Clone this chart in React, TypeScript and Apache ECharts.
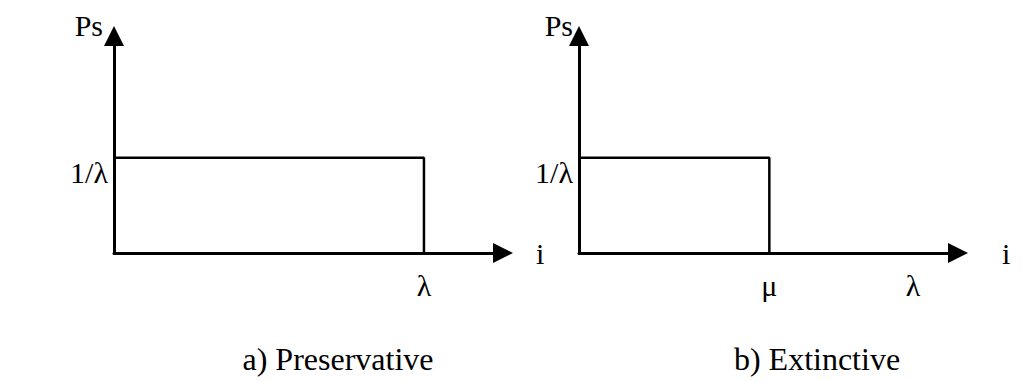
import React, { useEffect, useRef } from "react";
import * as echarts from "echarts";

// Symbolic parameters of the two selection-probability profiles
const LAMBDA = 10;
const MU = 5.7;
const LEVEL = 1 / LAMBDA;

// a) Preservative: Ps = 1/λ for every i up to λ
const preservativeX = [0, LAMBDA, LAMBDA];
const preservativeY = [LEVEL, LEVEL, 0];

// b) Extinctive: Ps = 1/λ only up to μ, zero afterwards
const extinctiveX = [0, MU, MU];
const extinctiveY = [LEVEL, LEVEL, 0];

// Tick positions and their symbolic labels
const preservativeTicks = [LAMBDA];
const preservativeTickLabels = ["λ"];
const extinctiveTicks = [MU, LAMBDA];
const extinctiveTickLabels = ["μ", "λ"];
const levelTicks = [LEVEL];
const levelTickLabels = ["1/λ"];

const captions = ["a) Preservative", "b) Extinctive"];

const FONT = "Liberation Serif";
const INK = "#000";
const FS = 30;

const Y_MAX = 0.228;

const pick = (ticks: number[], labels: string[]) => (v: number) => {
  const k = ticks.findIndex((t) => Math.abs(t - v) < 1e-6);
  return k >= 0 ? labels[k] : "";
};

const zip = (xs: number[], ys: number[]) => xs.map((x, k) => [x, ys[k]]);

function xAxisFor(
  gridIndex: number,
  max: number,
  ticks: number[],
  labels: string[],
  nameGap: number
) {
  return {
    type: "value",
    gridIndex,
    min: 0,
    max,
    splitLine: { show: false },
    axisTick: { show: false },
    axisLine: {
      show: true,
      lineStyle: { color: INK, width: 3 },
      symbol: ["none", "triangle"],
      symbolSize: [20, 20],
    },
    axisLabel: {
      customValues: ticks,
      formatter: pick(ticks, labels),
      color: INK,
      fontFamily: FONT,
      fontSize: FS,
      margin: 17,
    },
    name: "i",
    nameLocation: "end",
    nameGap,
    nameTextStyle: {
      color: INK,
      fontFamily: FONT,
      fontSize: FS,
      align: "left",
      verticalAlign: "middle",
      padding: [0, 0, 10, 0],
    },
  };
}

function yAxisFor(gridIndex: number, namePadRight: number) {
  return {
    type: "value",
    gridIndex,
    min: 0,
    max: Y_MAX,
    splitLine: { show: false },
    axisTick: { show: false },
    axisLine: {
      show: true,
      lineStyle: { color: INK, width: 3 },
      symbol: ["none", "triangle"],
      symbolSize: [20, 20],
    },
    axisLabel: {
      customValues: levelTicks,
      formatter: pick(levelTicks, levelTickLabels),
      color: INK,
      fontFamily: FONT,
      fontSize: FS,
      margin: 6,
      verticalAlign: "top",
    },
    name: "Ps",
    nameLocation: "end",
    nameGap: 11,
    nameTextStyle: {
      color: INK,
      fontFamily: FONT,
      fontSize: FS,
      align: "right",
      verticalAlign: "middle",
      padding: [0, namePadRight, 0, 0],
    },
  };
}

function stepSeries(index: number, xs: number[], ys: number[]) {
  return {
    type: "line",
    xAxisIndex: index,
    yAxisIndex: index,
    data: zip(xs, ys),
    symbol: "none",
    showSymbol: false,
    silent: true,
    lineStyle: { color: INK, width: 2.5 },
  };
}

export default function App() {
  const ref = useRef<HTMLDivElement>(null);

  useEffect(() => {
    if (!ref.current) return;
    const chart = echarts.init(ref.current, null, { renderer: "svg" });
    chart.setOption({
      animation: false,
      backgroundColor: "#fff",
      grid: [
        { left: 114, top: 36, width: 389, height: 217 },
        { left: 579, top: 36, width: 379, height: 217 },
      ],
      xAxis: [
        xAxisFor(0, 12.55, preservativeTicks, preservativeTickLabels, 33),
        xAxisFor(1, 11.35, extinctiveTicks, extinctiveTickLabels, 44),
      ],
      yAxis: [yAxisFor(0, 11), yAxisFor(1, 6)],
      series: [
        stepSeries(0, preservativeX, preservativeY),
        stepSeries(1, extinctiveX, extinctiveY),
      ],
      graphic: captions.map((text, k) => ({
        type: "text",
        x: k === 0 ? 338 : 817,
        y: 359,
        style: {
          text,
          fill: INK,
          fontFamily: FONT,
          fontSize: 32,
          align: "center",
          verticalAlign: "middle",
        },
      })),
    });
    return () => chart.dispose();
  }, []);

  return (
    <div
      ref={ref}
      style={{ position: "fixed", left: 0, top: 0, width: 1023, height: 382, background: "#fff" }}
    />
  );
}
